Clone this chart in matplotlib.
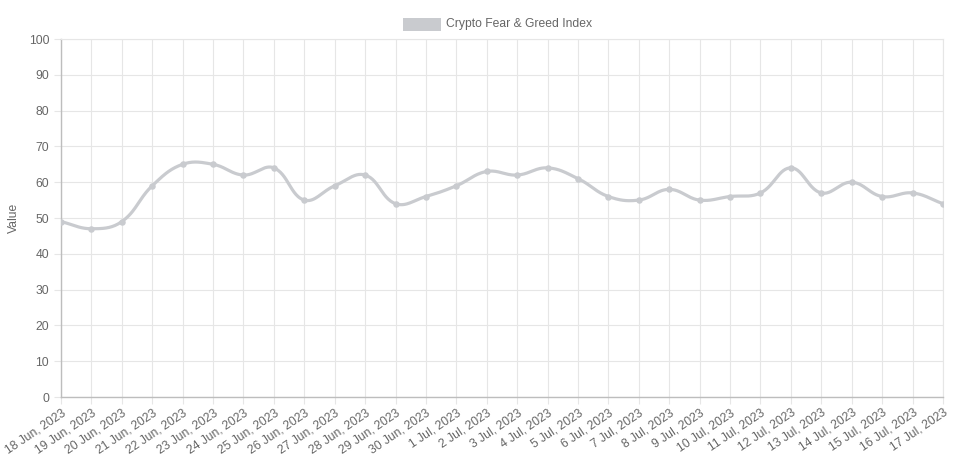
import numpy as np
import matplotlib
matplotlib.use("Agg")
import matplotlib.pyplot as plt
from matplotlib.patches import Rectangle

plt.rcParams['font.family'] = ['Liberation Sans', 'DejaVu Sans']

dates = ["18 Jun, 2023", "19 Jun, 2023", "20 Jun, 2023", "21 Jun, 2023", "22 Jun, 2023",
         "23 Jun, 2023", "24 Jun, 2023", "25 Jun, 2023", "26 Jun, 2023", "27 Jun, 2023",
         "28 Jun, 2023", "29 Jun, 2023", "30 Jun, 2023", "1 Jul, 2023", "2 Jul, 2023",
         "3 Jul, 2023", "4 Jul, 2023", "5 Jul, 2023", "6 Jul, 2023", "7 Jul, 2023",
         "8 Jul, 2023", "9 Jul, 2023", "10 Jul, 2023", "11 Jul, 2023", "12 Jul, 2023",
         "13 Jul, 2023", "14 Jul, 2023", "15 Jul, 2023", "16 Jul, 2023", "17 Jul, 2023"]
values = [49, 47, 49, 59, 65, 65, 62, 64, 55, 59,
          62, 54, 56, 59, 63, 62, 64, 61, 56, 55,
          58, 55, 56, 57, 64, 57, 60, 56, 57, 54]
label = "Crypto Fear & Greed Index"
line_color = "#c9cbcf"
text_color = "#666666"


def spline(x, y, sx, sy, tension=0.4, n=30):
    # bezier smoothing like chart.js, distances measured in pixels
    px, py = np.asarray(x, float) * sx, np.asarray(y, float) * sy
    m = len(px)
    cps = []
    for i in range(m):
        p0 = (px[max(i - 1, 0)], py[max(i - 1, 0)])
        p1 = (px[i], py[i])
        p2 = (px[min(i + 1, m - 1)], py[min(i + 1, m - 1)])
        d01 = np.hypot(p1[0] - p0[0], p1[1] - p0[1])
        d12 = np.hypot(p2[0] - p1[0], p2[1] - p1[1])
        s01 = d01 / (d01 + d12) if d01 + d12 else 0
        s12 = d12 / (d01 + d12) if d01 + d12 else 0
        fa, fb = tension * s01, tension * s12
        cps.append(((p1[0] - fa * (p2[0] - p0[0]), p1[1] - fa * (p2[1] - p0[1])),
                    (p1[0] + fb * (p2[0] - p0[0]), p1[1] + fb * (p2[1] - p0[1]))))
    xs, ys = [], []
    t = np.linspace(0, 1, n)
    for i in range(m - 1):
        a = (px[i], py[i])
        b = cps[i][1]
        c = cps[i + 1][0]
        d = (px[i + 1], py[i + 1])
        bx = (1 - t) ** 3 * a[0] + 3 * (1 - t) ** 2 * t * b[0] + 3 * (1 - t) * t ** 2 * c[0] + t ** 3 * d[0]
        by = (1 - t) ** 3 * a[1] + 3 * (1 - t) ** 2 * t * b[1] + 3 * (1 - t) * t ** 2 * c[1] + t ** 3 * d[1]
        xs.extend(bx)
        ys.extend(by)
    return np.array(xs) / sx, np.array(ys) / sy


fig = plt.figure(figsize=(9.79, 4.61), dpi=100)
ax = fig.add_axes([0.0623, 0.1388, 0.9009, 0.7766])

x = np.arange(len(values))
sx = 882 / (len(values) - 1)
sy = 358 / 100
cx, cy = spline(x, values, sx, sy)
ax.plot(cx, cy, color=line_color, lw=2.3, solid_capstyle='round', zorder=3)
ax.scatter(x, values, s=22, color=line_color, zorder=4, linewidths=0)

ax.set_xlim(0, len(values) - 1)
ax.set_ylim(0, 100)
ax.set_yticks(np.arange(0, 101, 10))
ax.set_xticks(x)
ax.set_xticklabels(dates, rotation=34, ha='right', rotation_mode='anchor', fontsize=8.3)
ax.grid(True, color='#e6e6e6', lw=0.8)
ax.set_axisbelow(True)
ax.tick_params(colors='#e6e6e6', labelcolor=text_color, labelsize=8.7, length=5, width=0.8)
ax.tick_params(axis='x', pad=2)
for side in ['top', 'right']:
    ax.spines[side].set_color('#e6e6e6')
    ax.spines[side].set_linewidth(0.8)
for side in ['left', 'bottom']:
    ax.spines[side].set_color('#bdbdbd')
    ax.spines[side].set_linewidth(1.0)
ax.set_ylabel("Value", color=text_color, fontsize=8.7)
ax.yaxis.set_label_coords(-0.046, 0.5)

# legend drawn like the chart.js box
fig.patches.append(Rectangle((403 / 979, 1 - 31 / 461), 38 / 979, 13 / 461,
                             transform=fig.transFigure, facecolor=line_color,
                             edgecolor='none'))
fig.text(446 / 979, 1 - 24.5 / 461, label, color=text_color, fontsize=8.7, va='center', ha='left')

fig.savefig("out.png", dpi=100)
